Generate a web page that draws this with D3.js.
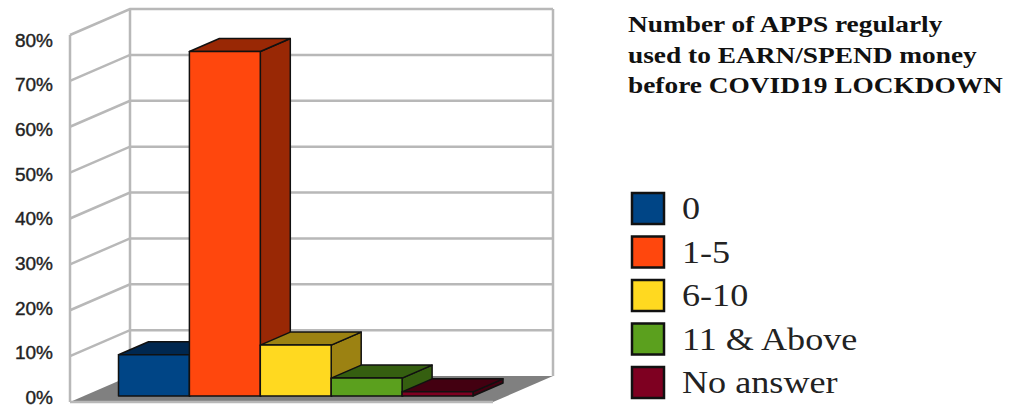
<!DOCTYPE html>
<html>
<head>
<meta charset="utf-8">
<script src="https://cdn.jsdelivr.net/npm/d3@7"></script>
<style>
  html, body { margin: 0; padding: 0; background: #fff; }
  svg { display: block; }
</style>
</head>
<body>
<script>
// share of respondents per bucket, in percent
var categories = ["0", "1-5", "6-10", "11 & Above", "No answer"];
var shares = [9, 75.1, 11.1, 3.9, 0.9];
var tick_values = [0, 10, 20, 30, 40, 50, 60, 70, 80];
var title_lines = ["Number of APPS regularly", "used to EARN/SPEND money", "before COVID19 LOCKDOWN"];

var front_colors = ["#004586", "#ff470d", "#ffd920", "#5ba01e", "#7e0021"];
var shade_colors = ["#00274f", "#992805", "#9c8212", "#355f10", "#430011"];

var width = 1010, height = 415;
var grid_color = "#b8b8b8", floor_color = "#808080", edge_color = "#111";

var svg_elem = d3.select("body")
  .append("svg")
  .attr("width", width)
  .attr("height", height);

svg_elem.append("rect")
  .attr("width", width)
  .attr("height", height)
  .attr("fill", "#fff");

// front plane of the box, the back wall is this shifted by depth
var y_front = d3.scaleLinear().domain([0, 80]).range([402, 35]);
var depth = {"x": 60, "y": -26};
var x_front = {"left": 70, "right": 493};
var point = function(x, y) { return x + "," + y; };

// floor
svg_elem.append("polygon")
  .attr("points", [
    point(x_front.left, y_front(0)),
    point(x_front.right, y_front(0)),
    point(x_front.right + depth.x, y_front(0) + depth.y),
    point(x_front.left + depth.x, y_front(0) + depth.y)
  ].join(" "))
  .attr("fill", floor_color);

// gridlines on the side wall and back wall
var grid = svg_elem.append("g")
  .attr("fill", "none")
  .attr("stroke", grid_color)
  .attr("stroke-width", 2.5);

grid.selectAll("polyline")
  .data(tick_values.filter(function(d) { return d > 0; }))
  .enter()
  .append("polyline")
  .attr("points", function(d) {
    return [
      point(x_front.left, y_front(d)),
      point(x_front.left + depth.x, y_front(d) + depth.y),
      point(x_front.right + depth.x, y_front(d) + depth.y)
    ].join(" ");
  });

[x_front.left, x_front.left + depth.x, x_front.right + depth.x].forEach(function(x, i) {
  var shift = i == 0 ? 0 : depth.y;
  grid.append("line")
    .attr("x1", x)
    .attr("x2", x)
    .attr("y1", y_front(80) + shift)
    .attr("y2", y_front(0) + shift);
});

grid.append("line")
  .attr("x1", x_front.left)
  .attr("x2", x_front.right)
  .attr("y1", y_front(0))
  .attr("y2", y_front(0));

// tick labels sit on their own, slightly tighter spacing
var y_label = d3.scaleLinear().domain([0, 80]).range([397, 40]);
svg_elem.append("g")
  .selectAll("text")
  .data(tick_values)
  .enter()
  .append("text")
  .attr("x", 53)
  .attr("y", function(d) { return y_label(d); })
  .attr("dy", "0.36em")
  .attr("text-anchor", "end")
  .attr("font-family", "'Liberation Sans', sans-serif")
  .attr("font-size", 19)
  .attr("fill", "#222")
  .attr("stroke", "#222")
  .attr("stroke-width", 0.4)
  .text(function(d) { return d + "%"; });

// bars stand a little behind the front edge of the floor
var x_bar = d3.scaleBand().domain(categories).range([118.5, 473]);
var bar_base = 396;
var bar_height = d3.scaleLinear().domain([0, 80]).range([0, y_front(0) - y_front(80)]);
var bar_depth = {"x": 30, "y": -13};

var bars = svg_elem.append("g")
  .attr("stroke", edge_color)
  .attr("stroke-width", 1.5)
  .attr("stroke-linejoin", "round")
  .selectAll("g")
  .data(categories)
  .enter()
  .append("g");

bars.append("polygon")
  .attr("fill", function(d, i) { return shade_colors[i]; })
  .attr("points", function(d, i) {
    var x1 = x_bar(d) + x_bar.bandwidth(), y0 = bar_base - bar_height(shares[i]);
    return [
      point(x1, bar_base),
      point(x1, y0),
      point(x1 + bar_depth.x, y0 + bar_depth.y),
      point(x1 + bar_depth.x, bar_base + bar_depth.y)
    ].join(" ");
  });

bars.append("polygon")
  .attr("fill", function(d, i) { return shade_colors[i]; })
  .attr("points", function(d, i) {
    var x0 = x_bar(d), x1 = x0 + x_bar.bandwidth(), y0 = bar_base - bar_height(shares[i]);
    return [
      point(x0, y0),
      point(x1, y0),
      point(x1 + bar_depth.x, y0 + bar_depth.y),
      point(x0 + bar_depth.x, y0 + bar_depth.y)
    ].join(" ");
  });

bars.append("rect")
  .attr("fill", function(d, i) { return front_colors[i]; })
  .attr("x", function(d) { return x_bar(d); })
  .attr("width", x_bar.bandwidth())
  .attr("y", function(d, i) { return bar_base - bar_height(shares[i]); })
  .attr("height", function(d, i) { return bar_height(shares[i]); });

// title, set wide
var title_baselines = d3.scaleLinear().domain([0, 2]).range([32, 93]);
svg_elem.append("g")
  .selectAll("text")
  .data(title_lines)
  .enter()
  .append("text")
  .attr("transform", function(d, i) { return "translate(628," + title_baselines(i) + ") scale(1.19,1)"; })
  .attr("font-family", "'Liberation Serif', serif")
  .attr("font-weight", "bold")
  .attr("font-size", 23)
  .attr("fill", "#111")
  .text(function(d) { return d; });

// legend
var y_legend = d3.scalePoint().domain(categories).range([208.5, 382.5]);
var legend = svg_elem.append("g")
  .selectAll("g")
  .data(categories)
  .enter()
  .append("g")
  .attr("transform", function(d) { return "translate(0," + y_legend(d) + ")"; });

legend.append("rect")
  .attr("x", 632)
  .attr("y", -15.5)
  .attr("width", 32)
  .attr("height", 31)
  .attr("fill", function(d, i) { return front_colors[i]; })
  .attr("stroke", "#111")
  .attr("stroke-width", 2.5);

legend.append("text")
  .attr("transform", "translate(682,0) scale(1.13,1)")
  .attr("dy", "0.33em")
  .attr("font-family", "'Liberation Serif', serif")
  .attr("font-size", 32)
  .attr("fill", "#222")
  .text(function(d) { return d; });
</script>
</body>
</html>
